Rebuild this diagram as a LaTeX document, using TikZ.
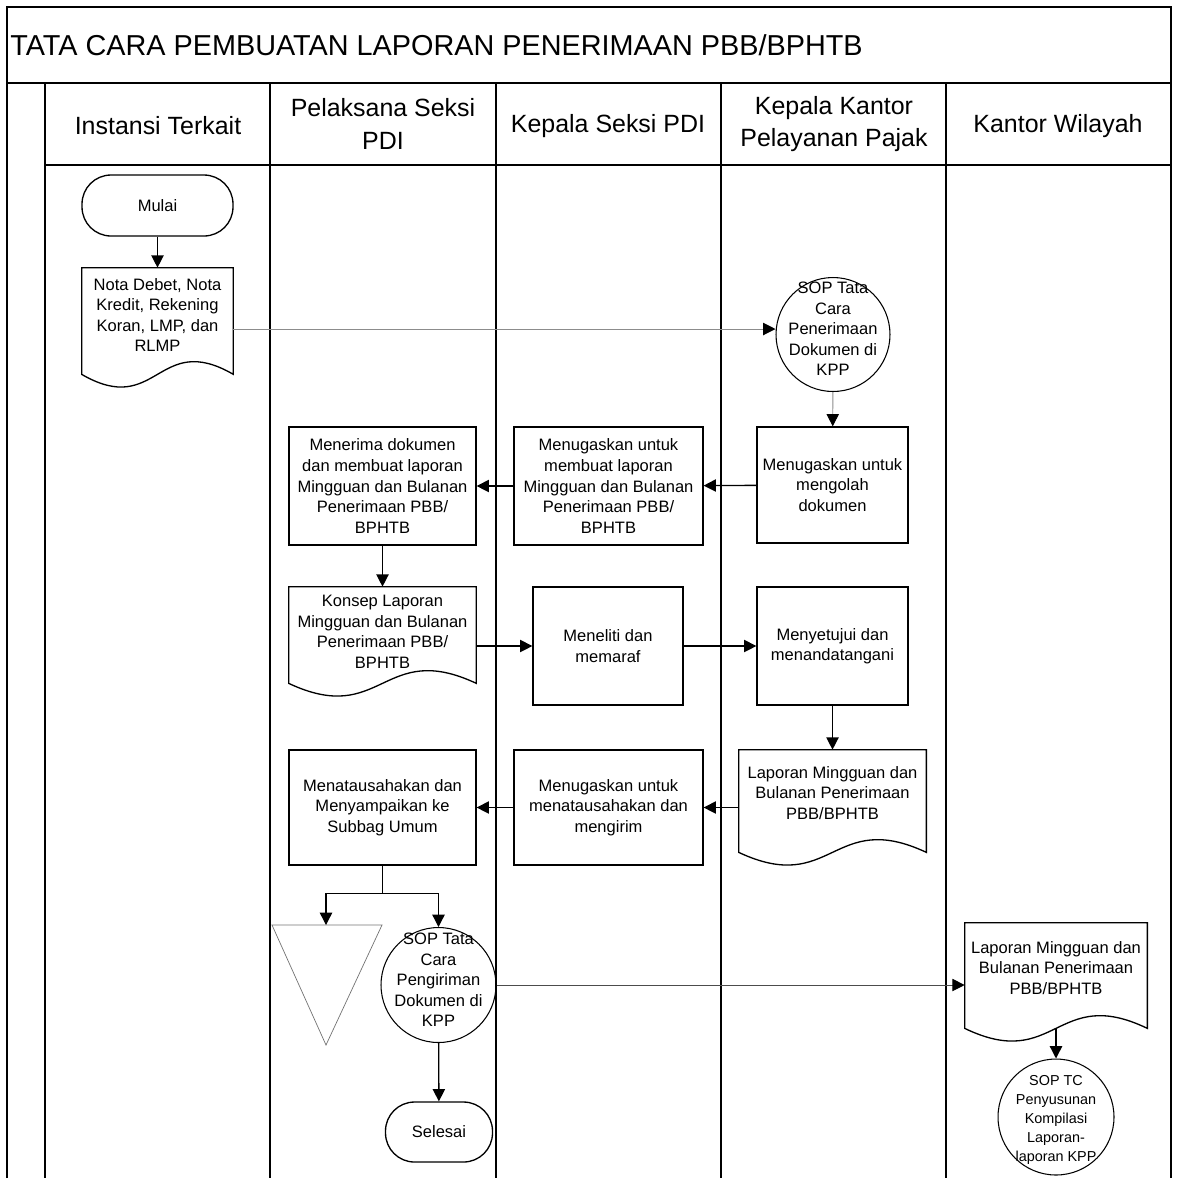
\documentclass[tikz,border=0pt]{standalone}
\usepackage{fontspec}
\setmainfont{Liberation Sans}
\usetikzlibrary{arrows.meta,calc}

\newcommand\flowfont{\fontsize{9.4pt}{11.7pt}\selectfont}
\newcommand\smallflowfont{\fontsize{8.2pt}{10.9pt}\selectfont}
\newcommand\headfont{\fontsize{14.2pt}{18.5pt}\selectfont}
\newcommand\titlefont{\fontsize{16.4pt}{19pt}\selectfont}

\tikzset{
  frame/.style={line width=1.1pt},
  outl/.style={line width=0.75pt},
  flow/.style={line width=0.75pt, -{Triangle[length=7pt,width=7pt]}},
  greyflow/.style={line width=0.55pt, draw=black!45, -{Triangle[length=7pt,width=7pt,color=black]}},
  plain/.style={line width=0.75pt},
  proc/.style={draw, line width=0.75pt, rectangle, inner sep=0pt, align=center, font=\flowfont},
  term/.style={proc, rounded corners=0.58cm},
  docbox/.style={rectangle, inner sep=0pt, draw=none},
  conn/.style={circle, inner sep=0pt, draw, line width=0.6pt},
  txt/.style={inner sep=0pt, align=center, font=\flowfont},
  head/.style={inner sep=0pt, align=center, font=\headfont},
}

% outline of a document symbol: straight top and sides, wavy bottom
\newcommand\docoutline[1]{%
  \draw[outl] (#1.south west) -- (#1.north west) -- (#1.north east) -- (#1.south east)
    .. controls ($(#1.south)+(0,-44)$) and ($(#1.south)+(0,44)$) .. (#1.south west) -- cycle;}

\begin{document}
\begin{tikzpicture}[x=0.02cm,y=-0.02cm]
\useasboundingbox (0,0) rectangle (1179,1178);

% frame, title bar and swimlanes
\draw[frame] (7,1178) -- (7,7) -- (1171,7) -- (1171,1178);
\draw[frame] (7,83) -- (1171,83);
\draw[frame] (45,165) -- (1171,165);
\foreach \x in {45,270,496,721,946} \draw[frame] (\x,83) -- (\x,1178);

\node[inner sep=0pt, anchor=west, font=\titlefont] (title) at (10,45)
  {TATA CARA PEMBUATAN LAPORAN PENERIMAAN PBB/BPHTB};

\node[head] (h1) at (158,126) {Instansi Terkait};
\node[head] (h2) at (383,124) {Pelaksana Seksi\\PDI};
\node[head] (h3) at (608,126) {Kepala Seksi PDI};
\node[head] (h4) at (834,124) {Kepala Kantor\\Pelayanan Pajak};
\node[head] (h5) at (1058,126) {Kantor Wilayah};

% Instansi Terkait
\node[term, minimum width=3.02cm, minimum height=1.22cm] (mulai) at (157.5,205.5) {Mulai};
\node[docbox, minimum width=3.02cm, minimum height=2.12cm] (nota) at (157.5,321) {};
\docoutline{nota}
\node[txt] (nota-t) at (157.5,315) {Nota Debet, Nota\\Kredit, Rekening\\Koran, LMP, dan\\RLMP};

% Kepala Kantor Pelayanan Pajak
\node[conn, minimum size=2.28cm] (sop1) at (833,334.5) {};
\node[txt] (sop1-t) at (833,329) {SOP Tata\\Cara\\Penerimaan\\Dokumen di\\KPP};
\node[proc, minimum width=3.02cm, minimum height=2.32cm] (olah) at (832.5,485) {Menugaskan untuk\\mengolah\\dokumen};
\node[proc, minimum width=3.02cm, minimum height=2.36cm] (setuju) at (832.5,646) {Menyetujui dan\\menandatangani};
\node[docbox, minimum width=3.74cm, minimum height=2.04cm] (lapkpp) at (832.5,801) {};
\docoutline{lapkpp}
\node[txt] (lapkpp-t) at (832.5,793) {Laporan Mingguan dan\\Bulanan Penerimaan\\PBB/BPHTB};

% Kepala Seksi PDI
\node[proc, minimum width=3.78cm, minimum height=2.36cm] (tugas) at (608.5,486) {Menugaskan untuk\\membuat laporan\\Mingguan dan Bulanan\\Penerimaan PBB/\\BPHTB};
\node[proc, minimum width=3.0cm, minimum height=2.36cm] (teliti) at (608,646) {Meneliti dan\\memaraf};
\node[proc, minimum width=3.78cm, minimum height=2.3cm] (kirim) at (608.5,807.5) {Menugaskan untuk\\menatausahakan dan\\mengirim};

% Pelaksana Seksi PDI
\node[proc, minimum width=3.74cm, minimum height=2.36cm] (terima) at (382.5,486) {Menerima dokumen\\dan membuat laporan\\Mingguan dan Bulanan\\Penerimaan PBB/\\BPHTB};
\node[docbox, minimum width=3.74cm, minimum height=1.92cm] (konsep) at (382.5,635) {};
\docoutline{konsep}
\node[txt] (konsep-t) at (382.5,632) {Konsep Laporan\\Mingguan dan Bulanan\\Penerimaan PBB/\\BPHTB};
\node[proc, minimum width=3.74cm, minimum height=2.3cm] (tatausaha) at (382.5,807.5) {Menatausahakan dan\\Menyampaikan ke\\Subbag Umum};

% archive triangle and second connector
\coordinate (tri) at (326,925);
\draw[line width=0.4pt, draw=black!55] (272,925) -- (382,925) -- (326,1045) -- cycle;
\node[conn, minimum size=2.3cm] (sop2) at (438.5,985) {};
\node[txt] (sop2-t) at (438.5,980) {SOP Tata\\Cara\\Pengiriman\\Dokumen di\\KPP};
\node[term, minimum width=2.14cm, minimum height=1.2cm] (selesai) at (439,1132) {Selesai};

% Kantor Wilayah
\node[docbox, minimum width=3.64cm, minimum height=2.1cm] (lapkw) at (1056,975.5) {};
\docoutline{lapkw}
\node[txt] (lapkw-t) at (1056,968) {Laporan Mingguan dan\\Bulanan Penerimaan\\PBB/BPHTB};
\node[conn, minimum size=2.32cm] (sop3) at (1056,1117) {};
\node[txt, font=\smallflowfont] (sop3-t) at (1056,1120) {SOP TC\\Penyusunan\\Kompilasi\\Laporan-\\laporan KPP};

% connectors
\draw[flow] (mulai) -- (nota);
\draw[greyflow] (nota.east |- sop1-t) -- (sop1.west |- sop1-t);
\draw[greyflow] (sop1) -- (olah);
\draw[flow] (olah) -- (tugas);
\draw[flow] (tugas) -- (terima);
\draw[flow] (terima) -- (konsep);
\draw[flow] (konsep.east |- teliti.west) -- (teliti.west);
\draw[flow] (teliti) -- (setuju);
\draw[flow] (setuju) -- (lapkpp);
\draw[flow] (lapkpp.west |- kirim.east) -- (kirim.east);
\draw[flow] (kirim) -- (tatausaha);
\coordinate (split) at ($(tatausaha.south)+(0,28)$);
\draw[plain] (tatausaha.south) -- (split);
\draw[flow] (split) -| (tri);
\draw[flow] (split) -| (sop2.north);
\draw[flow] (sop2) -- (selesai);
\draw[greyflow, draw=black!70] (sop2.east) -- (sop2.east -| lapkw.west);
\draw[flow] (lapkw.south) -- (sop3.north);
\end{tikzpicture}
\end{document}
